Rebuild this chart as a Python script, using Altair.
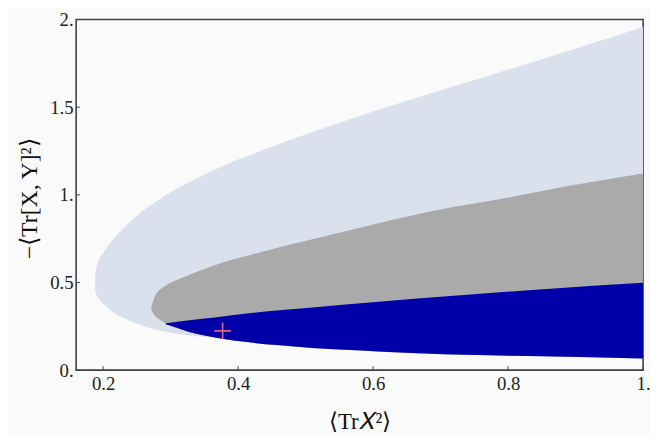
import altair as alt
import pandas as pd

# ---- data ----
light_x = [0.1878, 0.1883, 0.1892, 0.1941, 0.2014, 0.2087, 0.2234, 0.2380, 0.2575, 0.2818, 0.3062,
           0.3306, 0.3549, 0.3793, 0.4037, 0.4232, 0.486, 0.584, 0.681, 0.778, 0.876, 1.0]
light_hi = [0.50, 0.540, 0.570, 0.628, 0.676, 0.716, 0.782, 0.840, 0.905, 0.970, 1.027,
            1.077, 1.124, 1.168, 1.207, 1.235, 1.325, 1.455, 1.573, 1.688, 1.805, 1.958]
light_lo = [0.50, 0.465, 0.442, 0.405, 0.376, 0.349, 0.311, 0.283, 0.254, 0.228, 0.209,
            0.196, 0.188, 0.177, 0.164, 0.156, 0.134, 0.111, 0.094, 0.085, 0.077, 0.066]

gray_x = [0.2711, 0.2745, 0.2818, 0.2926, 0.30, 0.325, 0.350, 0.374, 0.413, 0.457,
          0.510, 0.608, 0.705, 0.803, 0.852, 1.0]
gray_hi = [0.349, 0.400, 0.450, 0.482, 0.498, 0.540, 0.577, 0.610, 0.652, 0.697,
           0.746, 0.838, 0.920, 0.986, 1.023, 1.121]
gray_lo = [0.349, 0.322, 0.293, 0.268, 0.253, 0.221, 0.197, 0.180, 0.160, 0.143,
           0.126, 0.107, 0.090, 0.083, 0.079, 0.066]

blue_x = [0.2926, 0.30, 0.325, 0.350, 0.374, 0.413, 0.457, 0.510, 0.608, 0.705, 0.852, 1.0]
blue_hi = [0.268, 0.271, 0.283, 0.294, 0.305, 0.323, 0.340, 0.358, 0.390, 0.420, 0.462, 0.498]
blue_lo = [0.262, 0.253, 0.221, 0.197, 0.180, 0.160, 0.143, 0.126, 0.107, 0.090, 0.079, 0.066]

point_x = [0.377]
point_y = [0.224]

x_ticks = [0.2, 0.4, 0.6, 0.8, 1.0]
y_ticks = [0.0, 0.5, 1.0, 1.5, 2.0]

x_title = "⟨Tr𝑋²⟩"
y_title = "−⟨Tr[X, Y]²⟩"

# ---- chart ----
FONT = "Liberation Serif"
W, H = 574, 355

xs = alt.Scale(domain=[0.16, 1.0], nice=False, zero=False)
ys = alt.Scale(domain=[0.0, 2.0], nice=False, zero=False)

x_axis = alt.Axis(values=x_ticks, title=x_title, grid=False, domain=False, ticks=False,
                  labelFlush=False, labelPadding=5, labelFont=FONT, labelFontSize=19,
                  labelColor="#222222",
                  labelExpr="datum.value == 1 ? '1.' : format(datum.value, '.1f')",
                  titleFont=FONT, titleFontSize=23, titleFontWeight="normal",
                  titleColor="#111111", titleY=59, titleBaseline="alphabetic")
y_axis = alt.Axis(values=y_ticks, title=y_title, grid=False, domain=False, ticks=False,
                  labelPadding=3, labelFont=FONT, labelFontSize=19, labelColor="#222222",
                  labelExpr="datum.value % 1 == 0 ? format(datum.value, 'd') + '.' : format(datum.value, '.1f')",
                  titleFont=FONT, titleFontSize=24, titleFontWeight="normal",
                  titleColor="#111111", titleX=-40, titleY=181, titleAngle=-90,
                  titleAlign="center", titleBaseline="alphabetic")


def region(xv, lo, hi, color):
    df = pd.DataFrame({"x": xv, "lo": lo, "hi": hi})
    return alt.Chart(df).mark_area(color=color, opacity=1, interpolate="monotone").encode(
        x=alt.X("x:Q", scale=xs, axis=x_axis),
        y=alt.Y("lo:Q", scale=ys, axis=y_axis),
        y2="hi:Q",
    )


light = region(light_x, light_lo, light_hi, "#dbe0ed")
gray = region(gray_x, gray_lo, gray_hi, "#aaaaaa")
blue = region(blue_x, blue_lo, blue_hi, "#0000aa")

xt = alt.Chart(pd.DataFrame({"x": x_ticks})).mark_rule(color="#444444", strokeWidth=1).encode(
    x=alt.X("x:Q", scale=xs, axis=x_axis),
    y=alt.value(H), y2=alt.value(H - 4),
)
yt = alt.Chart(pd.DataFrame({"lo": y_ticks})).mark_rule(color="#444444", strokeWidth=1).encode(
    y=alt.Y("lo:Q", scale=ys, axis=y_axis),
    x=alt.value(0), x2=alt.value(4),
)

marker = alt.Chart(pd.DataFrame({"x": point_x, "lo": point_y})).mark_point(
    shape="M-1,0L1,0M0,-1L0,1", filled=False, size=289, strokeWidth=1.6,
    color="#d6668f", opacity=1,
).encode(
    x=alt.X("x:Q", scale=xs, axis=x_axis),
    y=alt.Y("lo:Q", scale=ys, axis=y_axis),
)

chart = alt.layer(light, gray, blue, xt, yt, marker).properties(
    width=W, height=H,
    autosize="none",
    padding={"left": 69, "top": 9, "right": 8, "bottom": 63},
    background="#fafafa",
).configure_view(stroke="#404040", strokeWidth=1.6)

chart.save("out.html", embed_options={"renderer": "svg", "actions": False})
